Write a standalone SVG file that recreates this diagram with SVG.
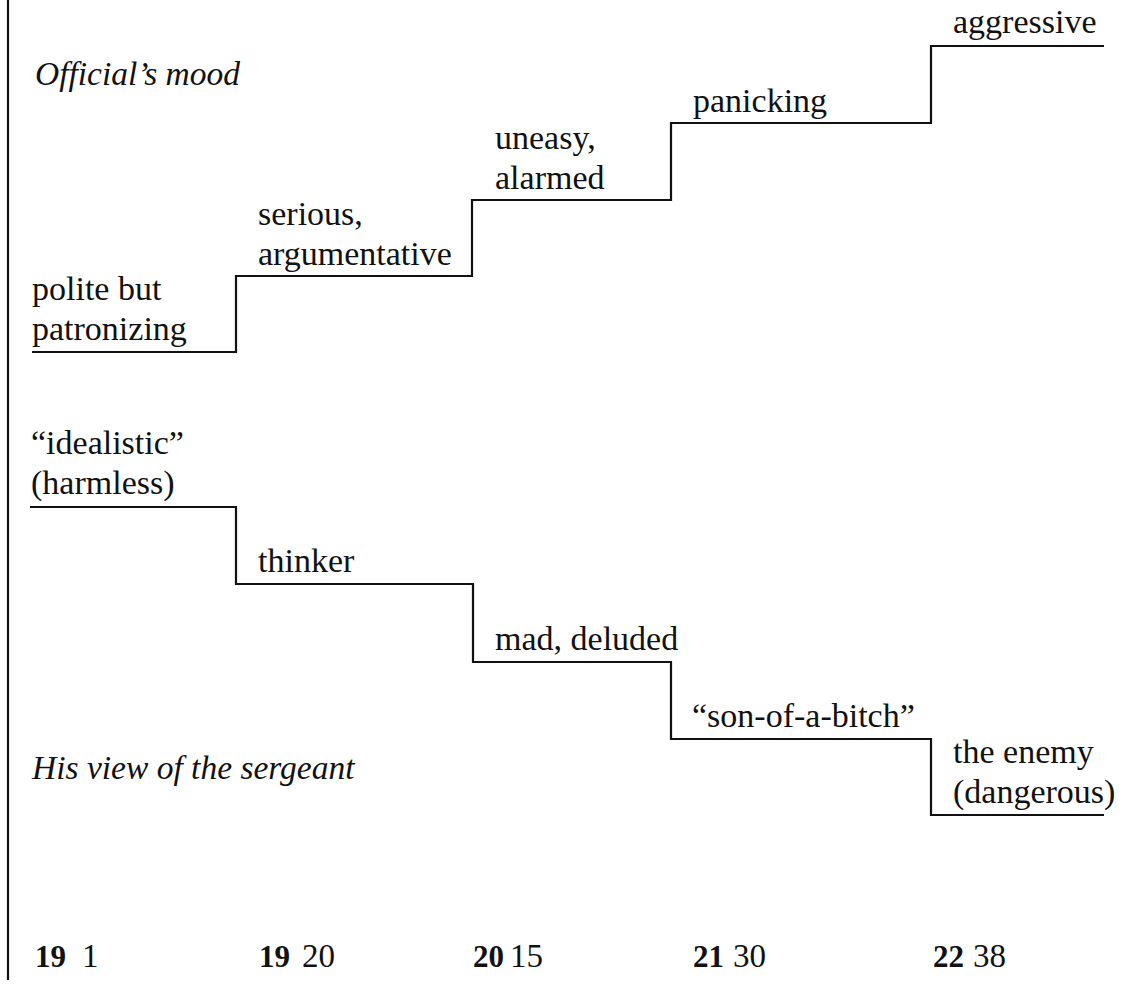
<svg xmlns="http://www.w3.org/2000/svg" width="1123" height="987" viewBox="0 0 1123 987">
<style>
  .lbl { font-family: "Liberation Serif", "Times New Roman", serif; font-size: 34px; fill: #111; }
  .ttl { font-family: "Liberation Serif", "Times New Roman", serif; font-size: 33.5px; font-style: italic; fill: #111; }
  .num { font-family: "Liberation Serif", "Times New Roman", serif; font-size: 33px; fill: #111; }
  .b { font-weight: bold; font-size: 31px; }
  .line { fill: none; stroke: #111; stroke-width: 2.2; stroke-linejoin: miter; }
</style>
<rect width="1123" height="987" fill="#ffffff"/>
<g id="connectors">
  <line class="line" x1="8" y1="0" x2="8" y2="980"/>
  <polyline class="line" points="32,352 236,352 236,276 472,276 472,200 671,200 671,123 931,123 931,46 1104,46"/>
  <polyline class="line" points="30,507 236,507 236,584 473,584 473,662 671,662 671,739 931,739 931,815 1104,815"/>
</g>
<g id="title-mood"><text class="ttl" x="35" y="85">Official’s mood</text></g>
<g id="title-view"><text class="ttl" x="32" y="779">His view of the sergeant</text></g>
<g id="mood-1"><text class="lbl" x="32" y="300">polite but</text><text class="lbl" x="32" y="340">patronizing</text></g>
<g id="mood-2"><text class="lbl" x="258" y="225">serious,</text><text class="lbl" x="258" y="265">argumentative</text></g>
<g id="mood-3"><text class="lbl" x="495" y="149">uneasy,</text><text class="lbl" x="495" y="189">alarmed</text></g>
<g id="mood-4"><text class="lbl" x="693" y="112">panicking</text></g>
<g id="mood-5"><text class="lbl" x="953" y="33">aggressive</text></g>
<g id="view-1"><text class="lbl" x="31" y="454">“idealistic”</text><text class="lbl" x="31" y="494">(harmless)</text></g>
<g id="view-2"><text class="lbl" x="258" y="572">thinker</text></g>
<g id="view-3"><text class="lbl" x="495" y="650">mad, deluded</text></g>
<g id="view-4"><text class="lbl" x="692" y="727">“son-of-a-bitch”</text></g>
<g id="view-5"><text class="lbl" x="953" y="763">the enemy</text><text class="lbl" x="953" y="803">(dangerous)</text></g>
<g id="times">
  <text class="num b" x="35" y="967">19</text><text class="num" x="82" y="967">1</text>
  <text class="num b" x="259" y="967">19</text><text class="num" x="302" y="967">20</text>
  <text class="num b" x="473" y="967">20</text><text class="num" x="510" y="967">15</text>
  <text class="num b" x="693" y="967">21</text><text class="num" x="733" y="967">30</text>
  <text class="num b" x="933" y="967">22</text><text class="num" x="973" y="967">38</text>
</g>
</svg>
